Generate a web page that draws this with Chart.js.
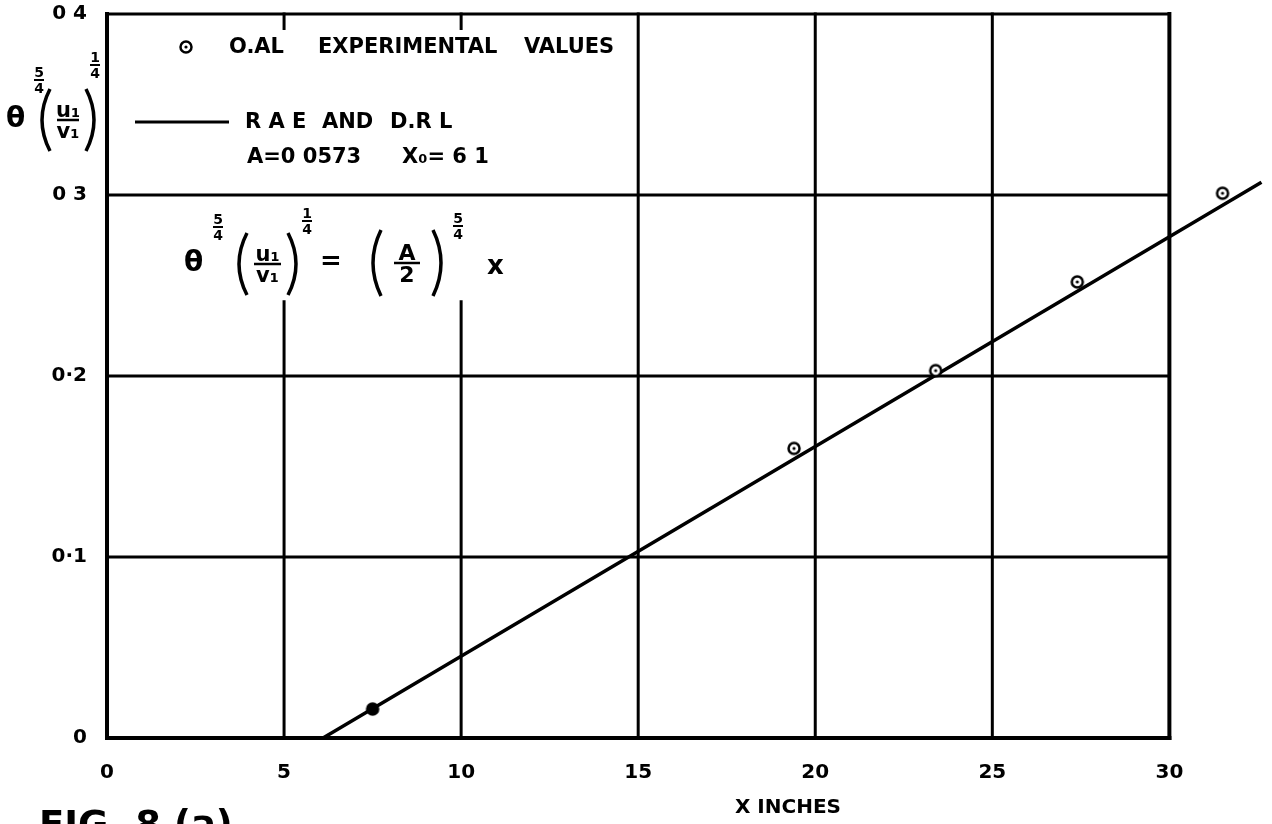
<!DOCTYPE html>
<html>
<head>
<meta charset="utf-8">
<script src="https://cdn.jsdelivr.net/npm/chart.js@4/dist/chart.umd.min.js"></script>
<style>
    html, body { margin: 0; padding: 0; background: #fff; }
    canvas { display: block; }
</style>
</head>
<body>
<canvas id="chart" width="1272" height="824"></canvas>
<script>
// experimental points (O.A.L.)
const expX = [7.5, 19.4, 23.4, 27.4, 31.5];
const expY = [0.016, 0.160, 0.203, 0.252, 0.301];
// R.A.E. and D.R.L. straight line
const fitX = [6.1, 32.6];
const fitY = [0, 0.307];
// axis ticks
const xTicks = [0, 5, 10, 15, 20, 25, 30];
const yTicks = [0, 0.1, 0.2, 0.3, 0.4];
const yTickLabels = ['0', '0·1', '0·2', '0 3', '0 4'];

const FONT = '"DejaVu Sans"';
const INK = '#000';

// little circle-with-dot marker used for the points and the legend
function makeMarker(filled) {
    const c = document.createElement('canvas');
    c.width = 16;
    c.height = 16;
    const g = c.getContext('2d');
    g.strokeStyle = INK;
    g.fillStyle = filled ? INK : '#fff';
    g.lineWidth = 2.5;
    g.beginPath();
    g.arc(8, 8, 5.5, 0, Math.PI * 2);
    g.fill();
    g.stroke();
    g.fillStyle = INK;
    g.beginPath();
    g.arc(8, 8, 1.6, 0, Math.PI * 2);
    g.fill();
    return c;
}
const markerOpen = makeMarker(false);
const markerFilled = makeMarker(true);

function frac(ctx, num, den, cx, cy, size, barW, lw) {
    ctx.font = `bold ${size}px ${FONT}`;
    ctx.textAlign = 'center';
    ctx.textBaseline = 'alphabetic';
    ctx.fillText(num, cx, cy - lw - 1);
    ctx.textBaseline = 'top';
    ctx.fillText(den, cx, cy + lw);
    ctx.lineWidth = lw;
    ctx.beginPath();
    ctx.moveTo(cx - barW / 2, cy);
    ctx.lineTo(cx + barW / 2, cy);
    ctx.stroke();
}

function paren(ctx, x, yc, h, left) {
    const bow = left ? -16 : 16;
    ctx.lineWidth = 3.5;
    ctx.beginPath();
    ctx.moveTo(x, yc - h / 2);
    ctx.quadraticCurveTo(x + bow, yc, x, yc + h / 2);
    ctx.stroke();
}

// θ^(5/4) (u1/v1)^(1/4)
function thetaGroup(ctx, x, yc, o) {
    ctx.font = `bold 28px ${FONT}`;
    ctx.textAlign = 'left';
    ctx.textBaseline = 'middle';
    ctx.fillText('θ', x, yc);
    frac(ctx, '5', '4', x + o.s1x, yc + o.s1y, 14, 10, 2);
    const pl = x + o.px;
    const pr = pl + o.pw;
    paren(ctx, pl, yc, 62, true);
    paren(ctx, pr, yc, 62, false);
    frac(ctx, 'u₁', 'v₁', (pl + pr) / 2, yc, 21, o.pw - 14, 2.5);
    frac(ctx, '1', '4', x + o.s2x, yc + o.s2y, 14, 10, 2);
}

const paperPlugin = {
    id: 'paper',
    beforeDatasetsDraw(chart) {
        const { ctx, scales: { x, y } } = chart;
        const px = v => x.getPixelForValue(v);
        const py = v => y.getPixelForValue(v);
        ctx.save();
        ctx.strokeStyle = INK;
        ctx.lineCap = 'square';
        const seg = (x0, y0, x1, y1, w) => {
            ctx.lineWidth = w;
            ctx.beginPath();
            ctx.moveTo(px(x0), py(y0));
            ctx.lineTo(px(x1), py(y1));
            ctx.stroke();
        };
        // horizontal rules
        yTicks.forEach(v => seg(0, v, 30, v, v === 0 ? 4 : 3));
        // vertical rules; 5 and 10 stop under the formula
        xTicks.forEach(v => {
            const w = (v === 0 || v === 30) ? 4 : 3;
            if (v === 5 || v === 10) {
                seg(v, 0, v, 0.241, w);
                seg(v, 0.392, v, 0.4, w);
            } else {
                seg(v, 0, v, 0.4, w);
            }
        });
        ctx.restore();
    },
    afterDraw(chart) {
        const { ctx } = chart;
        ctx.save();
        ctx.fillStyle = INK;
        ctx.strokeStyle = INK;

        // legend
        ctx.drawImage(markerOpen, 186 - 8, 47 - 8);
        ctx.font = `bold 21px ${FONT}`;
        ctx.textAlign = 'left';
        ctx.textBaseline = 'middle';
        ctx.fillText('O.AL', 229, 48);
        ctx.fillText('EXPERIMENTAL', 318, 48);
        ctx.fillText('VALUES', 524, 48);
        ctx.lineWidth = 3;
        ctx.beginPath();
        ctx.moveTo(135, 122);
        ctx.lineTo(229, 122);
        ctx.stroke();
        ctx.fillText('R A E', 245, 123);
        ctx.fillText('AND', 322, 123);
        ctx.fillText('D.R L', 390, 123);
        ctx.fillText('A=0 0573', 247, 158);
        ctx.fillText('X₀= 6 1', 402, 158);

        // formula in the plot
        thetaGroup(ctx, 184, 264, { s1x: 34, s1y: -37, px: 63, pw: 41, s2x: 123, s2y: -43 });
        ctx.font = `bold 26px ${FONT}`;
        ctx.textAlign = 'left';
        ctx.textBaseline = 'middle';
        ctx.fillText('=', 320, 262);
        paren(ctx, 381, 263, 66, true);
        paren(ctx, 433, 263, 66, false);
        frac(ctx, 'A', '2', 407, 263, 22, 26, 2.5);
        frac(ctx, '5', '4', 458, 226, 14, 10, 2);
        ctx.font = `bold 26px ${FONT}`;
        ctx.textAlign = 'left';
        ctx.textBaseline = 'middle';
        ctx.fillText('x', 487, 267);

        // y axis title
        thetaGroup(ctx, 6, 120, { s1x: 33, s1y: -40, px: 44, pw: 36, s2x: 89, s2y: -55 });

        // x axis title
        ctx.font = `bold 20px ${FONT}`;
        ctx.textAlign = 'center';
        ctx.textBaseline = 'middle';
        ctx.fillText('X INCHES', 788, 808);

        // figure caption, cut by the page edge
        ctx.font = `bold 37px ${FONT}`;
        ctx.textAlign = 'left';
        ctx.textBaseline = 'top';
        ctx.fillText('FIG. 8 (a)', 39, 809);
        ctx.restore();
    }
};

const tickFont = { family: FONT, size: 20, weight: 'bold' };

new Chart(document.getElementById('chart'), {
    type: 'scatter',
    data: {
        datasets: [
            {
                label: 'O.A.L. experimental values',
                data: expX.map((v, i) => ({ x: v, y: expY[i] })),
                pointStyle: ctx => ctx.dataIndex === 0 ? markerFilled : markerOpen,
                pointRadius: 6,
                showLine: false
            },
            {
                label: 'R.A.E. and D.R.L.',
                data: fitX.map((v, i) => ({ x: v, y: fitY[i] })),
                showLine: true,
                borderColor: INK,
                borderWidth: 3.5,
                pointRadius: 0,
                clip: false
            }
        ]
    },
    options: {
        responsive: false,
        animation: false,
        layout: { padding: { top: 14, right: 4, left: 0, bottom: 0 } },
        plugins: {
            legend: { display: false },
            tooltip: { enabled: false }
        },
        scales: {
            x: {
                type: 'linear',
                min: 0,
                max: 32.7,
                grid: { display: false, drawTicks: false },
                border: { display: false },
                afterBuildTicks: s => { s.ticks = xTicks.map(v => ({ value: v })); },
                afterFit: s => {
                    s.height = 86;
                    s.paddingLeft = 0;
                    s.paddingRight = 0;
                },
                ticks: { font: tickFont, color: INK, padding: 23, maxRotation: 0 }
            },
            y: {
                min: 0,
                max: 0.4,
                grid: { display: false, drawTicks: false },
                border: { display: false },
                afterBuildTicks: s => { s.ticks = yTicks.map(v => ({ value: v })); },
                afterFit: s => {
                    s.width = 107;
                    s.paddingTop = 0;
                    s.paddingBottom = 0;
                },
                ticks: {
                    font: tickFont,
                    color: INK,
                    padding: 20,
                    callback: (v, i) => yTickLabels[i]
                }
            }
        }
    },
    plugins: [paperPlugin]
});
</script>
</body>
</html>
